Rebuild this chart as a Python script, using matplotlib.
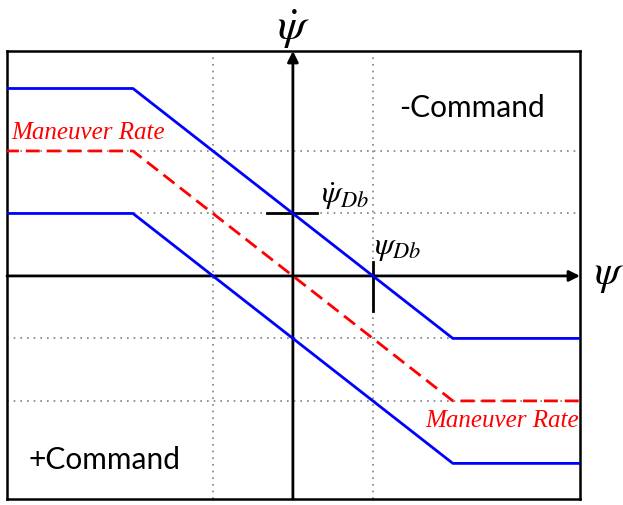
import numpy as np
import matplotlib.pyplot as plt

plt.rcParams['mathtext.fontset'] = 'stix'

# breakpoints of the switching curves (psi in units of psi_Db)
psi_pts = [-3.6, -2, 2, 3.6]
upper_switch = [3, 3, -1, -1]
maneuver_rate = [2, 2, -2, -2]
lower_switch = [1, 1, -3, -3]

grid_x = [-1, 1]
grid_y = [-2, -1, 1, 2]

xlim = (-3.575, 3.59)
ylim = (-3.57, 3.6)

fig = plt.figure(figsize=(6.23, 5.06), dpi=100)
ax = fig.add_axes([7 / 623, 6 / 506, 573 / 623, 448 / 506])
ax.set_xlim(*xlim)
ax.set_ylim(*ylim)
ax.set_xticks([])
ax.set_yticks([])
for sp in ax.spines.values():
    sp.set_linewidth(1.8)
    sp.set_color('black')

for gx in grid_x:
    ax.axvline(gx, color='gray', ls=(0, (1, 3)), lw=1.2, zorder=1)
for gy in grid_y:
    ax.axhline(gy, color='gray', ls=(0, (1, 3)), lw=1.2, zorder=1)

# coordinate axes with arrow heads
ax.annotate('', xy=(xlim[1], 0), xytext=(xlim[0], 0),
            arrowprops=dict(arrowstyle='-|>', color='black', lw=2,
                            mutation_scale=16, shrinkA=0, shrinkB=0), zorder=3)
ax.annotate('', xy=(0, ylim[1]), xytext=(0, ylim[0]),
            arrowprops=dict(arrowstyle='-|>', color='black', lw=2,
                            mutation_scale=16, shrinkA=0, shrinkB=0), zorder=3)

# dead-band markers
ax.plot([-0.33, 0.3], [1, 1], color='black', lw=2, zorder=3)
ax.plot([1, 1], [0.22, -0.56], color='black', lw=2, zorder=3)

ax.plot(psi_pts, upper_switch, color='#0000FF', lw=2, zorder=4)
ax.plot(psi_pts, lower_switch, color='#0000FF', lw=2, zorder=4)
ax.plot(psi_pts, maneuver_rate, color='#FF0000', lw=2, ls=(0, (5, 2.5)), zorder=4)

ax.text(0, 3.98, r'$\dot{\psi}$', fontsize=33, ha='center', va='center', clip_on=False)
ax.text(3.95, 0.05, r'$\psi$', fontsize=30, ha='center', va='center', clip_on=False)
ax.text(0.35, 1.3, r'$\dot{\psi}_{Db}$', fontsize=23, ha='left', va='center')
ax.text(1.02, 0.47, r'$\psi_{Db}$', fontsize=23, ha='left', va='center')

ax.text(2.24, 2.7, '-Command', fontsize=21.5, family='Lato', ha='center', va='center')
ax.text(-2.36, -2.93, '+Command', fontsize=21.5, family='Lato', ha='center', va='center')

ax.text(-2.56, 2.3, 'Maneuver Rate', fontsize=18, family='Liberation Serif',
        style='italic', color='#FF0000', ha='center', va='center')
ax.text(2.61, -2.3, 'Maneuver Rate', fontsize=18, family='Liberation Serif',
        style='italic', color='#FF0000', ha='center', va='center')

fig.savefig('out.png', dpi=100)
